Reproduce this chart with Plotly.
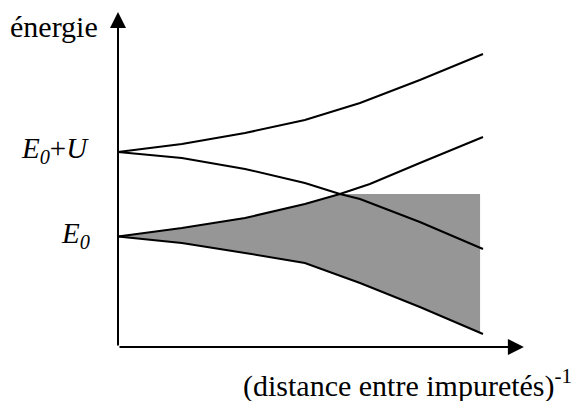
import plotly.graph_objects as go

# Curves (x = (distance)^-1 normalized, y = energy with E0 = 0 and E0+U = 1)
x_upper_u = [0, 0.175, 0.348, 0.512, 0.663, 0.827, 1.0]
y_upper_u = [1.0, 1.095, 1.225, 1.379, 1.580, 1.852, 2.160]

x_lower_u = [0, 0.175, 0.348, 0.512, 0.608, 0.663, 0.827, 1.0]
y_lower_u = [1.0, 0.929, 0.799, 0.633, 0.503, 0.444, 0.172, -0.148]

x_upper_e = [0, 0.175, 0.348, 0.512, 0.608, 0.690, 0.827, 1.0]
y_upper_e = [0, 0.101, 0.219, 0.385, 0.503, 0.621, 0.870, 1.178]

x_lower_e = [0, 0.175, 0.348, 0.512, 0.663, 0.827, 1.0]
y_lower_e = [0, -0.077, -0.195, -0.314, -0.550, -0.834, -1.154]

fill_level = 0.503      # top of the shaded band (crossing level)
fill_right = 0.992      # right edge of the shaded band
cross_idx = 4           # index of the crossing point in the upper E0 branch

axis_y = -1.308
axis_x_end = 1.112
axis_y_top = 2.657

tick_vals = [0, 1]
tick_text = ["<i>E<sub>0</sub></i>", "<i>E<sub>0</sub></i>+<i>U</i>"]
y_title = "énergie"
x_title = "(distance entre impuretés)<sup>-1</sup>"

FONT = "Liberation Serif"

fig = go.Figure()

# shaded region
poly_x = x_lower_e + [fill_right, fill_right, x_upper_e[cross_idx]] + x_upper_e[cross_idx::-1]
poly_y = y_lower_e + [y_lower_e[-1], fill_level, fill_level] + y_upper_e[cross_idx::-1]
fig.add_trace(go.Scatter(x=poly_x, y=poly_y, fill="toself", fillcolor="#969696",
                         mode="lines", line=dict(width=0), hoverinfo="skip", showlegend=False))

for xs, ys in [(x_upper_u, y_upper_u), (x_lower_u, y_lower_u),
               (x_upper_e, y_upper_e), (x_lower_e, y_lower_e)]:
    fig.add_trace(go.Scatter(x=xs, y=ys, mode="lines",
                             line=dict(color="black", width=2),
                             hoverinfo="skip", showlegend=False))

# axes with arrows
fig.add_annotation(x=axis_x_end, y=axis_y, ax=0, ay=axis_y, xref="x", yref="y",
                   axref="x", ayref="y", showarrow=True, arrowhead=2, arrowsize=1.6,
                   arrowwidth=2, arrowcolor="black", text="")
fig.add_annotation(x=0, y=axis_y_top, ax=0, ay=axis_y, xref="x", yref="y",
                   axref="x", ayref="y", showarrow=True, arrowhead=2, arrowsize=1.6,
                   arrowwidth=2, arrowcolor="black", text="")

# tick labels
fig.add_annotation(x=-0.072, y=tick_vals[0] + 0.02, xref="x", yref="y", text=tick_text[0],
                   showarrow=False, xanchor="right", yanchor="middle",
                   font=dict(family=FONT, size=29, color="black"))
fig.add_annotation(x=-0.075, y=tick_vals[1] + 0.02, xref="x", yref="y", text=tick_text[1],
                   showarrow=False, xanchor="right", yanchor="middle",
                   font=dict(family=FONT, size=29, color="black"))

fig.add_annotation(x=-0.049, y=2.48, xref="x", yref="y", text=y_title,
                   showarrow=False, xanchor="right", yanchor="middle",
                   font=dict(family=FONT, size=30, color="black"))
fig.add_annotation(x=1.249, y=-1.74, xref="x", yref="y", text=x_title,
                   showarrow=False, xanchor="right", yanchor="middle",
                   font=dict(family=FONT, size=30, color="black"))

fig.update_layout(width=583, height=401, margin=dict(l=0, r=0, t=0, b=0),
                  plot_bgcolor="white", paper_bgcolor="white",
                  xaxis=dict(range=[-0.30137, 1.29589], visible=False, fixedrange=True),
                  yaxis=dict(range=[-2.0414, 2.7041], visible=False, fixedrange=True))

fig.write_html("out.html")
